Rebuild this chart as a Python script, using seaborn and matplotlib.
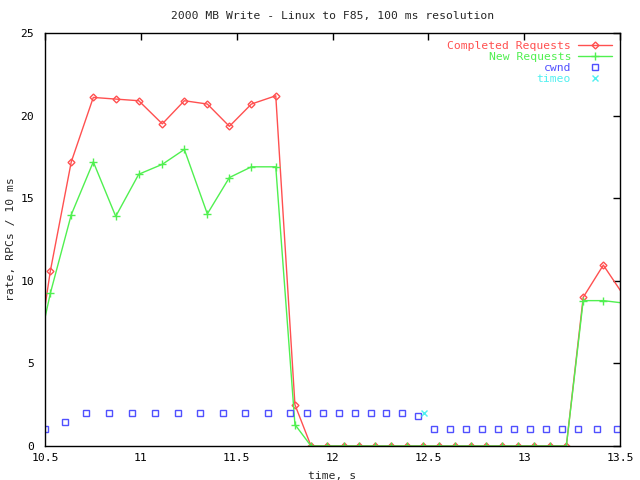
import pandas as pd
import matplotlib
matplotlib.use('Agg')
import matplotlib.pyplot as plt
import seaborn as sns

# request rates (RPCs per 10 ms), sampled ~every 100 ms
req_time = [10.42, 10.528, 10.637, 10.752, 10.869, 10.989, 11.112, 11.227, 11.347, 11.462, 11.577, 11.704,
            11.804, 11.888, 11.973, 12.058, 12.14, 12.223, 12.307, 12.39, 12.474, 12.557, 12.639,
            12.721, 12.802, 12.886, 12.969, 13.053, 13.136, 13.22, 13.308, 13.413, 13.52]
completed = [2.3, 10.6, 17.2, 21.1, 21.0, 20.9, 19.5, 20.9, 20.7, 19.35, 20.7, 21.2,
             2.5, 0, 0, 0, 0, 0, 0, 0, 0, 0, 0,
             0, 0, 0, 0, 0, 0, 0, 9.0, 10.95, 9.1]
new_req = [3.5, 9.25, 14.0, 17.2, 13.9, 16.45, 17.05, 17.95, 14.05, 16.25, 16.9, 16.9,
           1.3, 0, 0, 0, 0, 0, 0, 0, 0, 0, 0,
           0, 0, 0, 0, 0, 0, 0, 8.8, 8.8, 8.65]

cwnd_time = [10.5, 10.606, 10.716, 10.835, 10.955, 11.075, 11.195, 11.31, 11.43, 11.545, 11.665, 11.78,
             11.869, 11.952, 12.036, 12.119, 12.202, 12.281, 12.364, 12.448,
             12.53, 12.613, 12.697, 12.78, 12.863, 12.949, 13.032, 13.115, 13.199, 13.282, 13.382, 13.486]
cwnd = [1, 1.43, 2, 2, 2, 2, 2, 2, 2, 2, 2, 2,
        2, 2, 2, 2, 2, 2, 2, 1.82,
        1, 1, 1, 1, 1, 1, 1, 1, 1, 1, 1, 1]

timeo_time = [12.477]
timeo = [1.98]

df_req = pd.DataFrame({'time': req_time, 'completed': completed, 'new': new_req})
df_cwnd = pd.DataFrame({'time': cwnd_time, 'cwnd': cwnd})
df_timeo = pd.DataFrame({'time': timeo_time, 'timeo': timeo})

sns.set_theme(style='white')
plt.rcParams['font.family'] = ['DejaVu Sans Mono']
plt.rcParams['font.size'] = 8.2

red = '#ff5050'
green = '#50f050'
blue = '#5050ff'
cyan = '#50f0f0'

fig = plt.figure(figsize=(6.4, 4.8), dpi=100)
ax = fig.add_axes([45 / 640, 1 - 446 / 480, 575 / 640, 413 / 480])

sns.lineplot(data=df_req, x='time', y='completed', ax=ax, color=red, lw=1,
             marker='D', markersize=3.5, markerfacecolor='none', markeredgecolor=red,
             markeredgewidth=1, label='Completed Requests')
sns.lineplot(data=df_req, x='time', y='new', ax=ax, color=green, lw=1,
             marker='+', markersize=5.5, markeredgecolor=green, markeredgewidth=1,
             label='New Requests')
sns.lineplot(data=df_cwnd, x='time', y='cwnd', ax=ax, color=blue, linestyle='none',
             marker='s', markersize=5, markerfacecolor='none', markeredgecolor=blue,
             markeredgewidth=1, label='cwnd')
sns.lineplot(data=df_timeo, x='time', y='timeo', ax=ax, color=cyan, linestyle='none',
             marker='x', markersize=5, markeredgecolor=cyan, markeredgewidth=1, label='timeo')

ax.set_xlim(10.5, 13.5)
ax.set_ylim(0, 25)
ax.set_xticks([10.5, 11, 11.5, 12, 12.5, 13, 13.5])
ax.set_xticklabels(['10.5', '11', '11.5', '12', '12.5', '13', '13.5'])
ax.set_yticks([0, 5, 10, 15, 20, 25])
ax.tick_params(direction='in', length=5, width=1, top=True, right=True,
               colors='black', labelsize=8.2)
ax.tick_params(axis='x', pad=5)
ax.tick_params(axis='y', pad=8)
for s in ax.spines.values():
    s.set_color('black')
    s.set_linewidth(1)

ax.set_title('2000 MB Write - Linux to F85, 100 ms resolution', fontsize=8.2, pad=10)
ax.set_xlabel('time, s', fontsize=8.2, labelpad=6)
ax.set_ylabel('rate, RPCs / 10 ms', fontsize=8.2, labelpad=3)

leg = ax.legend(loc='upper right', frameon=False, markerfirst=False,
                handlelength=3.0, handletextpad=0.6, labelspacing=0.08,
                borderaxespad=0.3, fontsize=8.2)
for t, c in zip(leg.get_texts(), [red, green, blue, cyan]):
    t.set_color(c)

fig.savefig('out.png', dpi=100)
